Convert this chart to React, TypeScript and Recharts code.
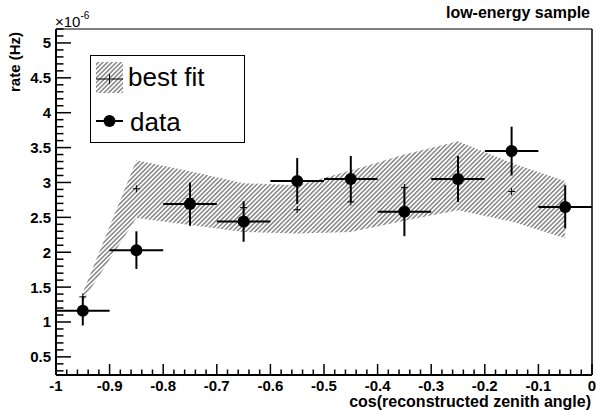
import React from "react";
import {
  Area,
  ComposedChart,
  ErrorBar,
  ReferenceLine,
  Scatter,
  XAxis,
  YAxis,
} from "recharts";

// bins in cos(reconstructed zenith angle)
const binCenters = [-0.95, -0.85, -0.75, -0.65, -0.55, -0.45, -0.35, -0.25, -0.15, -0.05];
const binHalfWidth = [0.05, 0.05, 0.05, 0.05, 0.05, 0.05, 0.05, 0.05, 0.05, 0.05];

// measured rate (units of 1e-6 Hz)
const dataRate = [1.16, 2.03, 2.69, 2.44, 3.02, 3.05, 2.58, 3.05, 3.45, 2.65];
const dataErr = [0.21, 0.27, 0.31, 0.29, 0.33, 0.33, 0.35, 0.33, 0.35, 0.31];

// best fit and its band
const fitRate = [1.36, 2.91, 2.77, 2.64, 2.61, 2.72, 2.93, 3.09, 2.87, 2.61];
const fitLow = [1.3, 2.49, 2.39, 2.29, 2.27, 2.29, 2.45, 2.6, 2.44, 2.2];
const fitHigh = [1.42, 3.32, 3.16, 2.99, 2.96, 3.17, 3.4, 3.59, 3.28, 3.02];

const xMajorTicks = [-1, -0.9, -0.8, -0.7, -0.6, -0.5, -0.4, -0.3, -0.2, -0.1, 0];
const xTickLabels = ["-1", "-0.9", "-0.8", "-0.7", "-0.6", "-0.5", "-0.4", "-0.3", "-0.2", "-0.1", "0"];
const yMajorTicks = [0.5, 1, 1.5, 2, 2.5, 3, 3.5, 4, 4.5, 5];
const yTickLabels = ["0.5", "1", "1.5", "2", "2.5", "3", "3.5", "4", "4.5", "5"];

const X_DOMAIN: [number, number] = [-1, 0];
const Y_DOMAIN: [number, number] = [0.24, 5.2];

const FONT = "'Liberation Sans', Arial, Helvetica, sans-serif";

const rows = binCenters.map((x, i) => ({
  x,
  y: dataRate[i],
  ey: dataErr[i],
  ex: binHalfWidth[i],
  fit: fitRate[i],
  band: [fitLow[i], fitHigh[i]],
}));

const minorTicks = (lo: number, hi: number, step: number) => {
  const out: number[] = [];
  const n = Math.round((hi - lo) / step);
  for (let i = 0; i <= n; i++) out.push(Math.round((lo + i * step) * 1000) / 1000);
  return out;
};
const xAllTicks = minorTicks(-1, 0, 0.02);
const yAllTicks = minorTicks(0.3, 5.2, 0.1);

const labelFor = (v: number, majors: number[], labels: string[]) => {
  const i = majors.findIndex((m) => Math.abs(m - v) < 1e-6);
  return i >= 0 ? labels[i] : null;
};

const XTick = (props: any) => {
  const { x, y, payload } = props;
  const label = labelFor(payload.value, xMajorTicks, xTickLabels);
  return (
    <g>
      <line x1={x} x2={x} y1={y} y2={y - (label ? 11 : 5.5)} stroke="#000" strokeWidth={1.5} />
      {label && (
        <text x={x} y={y + 16} textAnchor="middle" fontFamily={FONT} fontWeight="bold" fontSize={15} fill="#000">
          {label}
        </text>
      )}
    </g>
  );
};

const YTick = (props: any) => {
  const { x, y, payload } = props;
  const label = labelFor(payload.value, yMajorTicks, yTickLabels);
  return (
    <g>
      <line x1={x} x2={x + (label ? 15 : 7.5)} y1={y} y2={y} stroke="#000" strokeWidth={1.5} />
      {label && (
        <text x={x - 5} y={y} dy="0.36em" textAnchor="end" fontFamily={FONT} fontWeight="bold" fontSize={15} fill="#000">
          {label}
        </text>
      )}
    </g>
  );
};

const DataDot = (p: any) => <circle cx={p.cx} cy={p.cy} r={6} fill="#000" />;
const FitCross = (p: any) => (
  <g stroke="#000" strokeWidth={1}>
    <line x1={p.cx - 3.5} x2={p.cx + 3.5} y1={p.cy} y2={p.cy} />
    <line x1={p.cx} x2={p.cx} y1={p.cy - 3.5} y2={p.cy + 3.5} />
  </g>
);

const Hatch = ({ id }: { id: string }) => (
  <pattern id={id} patternUnits="userSpaceOnUse" width={3.2} height={3.2} patternTransform="rotate(45)">
    <line x1={1.6} y1={0} x2={1.6} y2={3.2} stroke="#333" strokeWidth={0.9} />
  </pattern>
);

export default function App() {
  return (
    <div style={{ position: "absolute", left: 0, top: 0, width: 596, height: 410, background: "#fff" }}>
      <ComposedChart width={596} height={410} data={rows} margin={{ top: 29, right: 4, bottom: 0, left: 0 }}>
        <defs>
          <Hatch id="hatch" />
        </defs>
        <XAxis
          type="number"
          dataKey="x"
          domain={X_DOMAIN}
          ticks={xAllTicks}
          interval={0}
          height={35}
          tickSize={0}
          tickMargin={0}
          tick={<XTick />}
          axisLine={{ stroke: "#000", strokeWidth: 2 }}
          tickLine={false}
          allowDataOverflow
        />
        <YAxis
          type="number"
          domain={Y_DOMAIN}
          ticks={yAllTicks}
          interval={0}
          width={56}
          tickSize={0}
          tickMargin={0}
          tick={<YTick />}
          axisLine={{ stroke: "#000", strokeWidth: 2 }}
          tickLine={false}
          allowDataOverflow
        />
        <ReferenceLine y={5.2} stroke="#000" strokeWidth={1} />
        <ReferenceLine x={0} stroke="#000" strokeWidth={1.5} />
        <Area
          type="linear"
          dataKey="band"
          stroke="none"
          fill="url(#hatch)"
          fillOpacity={1}
          isAnimationActive={false}
          dot={false}
          activeDot={false}
        />
        <Scatter dataKey="fit" shape={<FitCross />} isAnimationActive={false} />
        <Scatter dataKey="y" shape={<DataDot />} isAnimationActive={false}>
          <ErrorBar dataKey="ey" direction="y" width={0} stroke="#000" strokeWidth={2} />
          <ErrorBar dataKey="ex" direction="x" width={0} stroke="#000" strokeWidth={2} />
        </Scatter>
      </ComposedChart>

      <svg
        width={596}
        height={410}
        style={{ position: "absolute", left: 0, top: 0, pointerEvents: "none" }}
        fontFamily={FONT}
      >
        <defs>
          <Hatch id="hatchLegend" />
        </defs>
        <text x={590} y={18} textAnchor="end" fontWeight="bold" fontSize={16}>
          low-energy sample
        </text>
        <text x={591} y={407} textAnchor="end" fontWeight="bold" fontSize={16}>
          cos(reconstructed zenith angle)
        </text>
        <text x={20} y={32} textAnchor="end" fontWeight="bold" fontSize={15} transform="rotate(-90 20 32)">
          rate (Hz)
        </text>
        <text x={55} y={27} fontSize={15}>
          ×10
          <tspan dy={-8} fontSize={10}>
            -6
          </tspan>
        </text>

        <rect x={90.5} y={55.5} width={154} height={87} fill="#fff" stroke="#000" strokeWidth={1} />
        <rect x={96} y={62} width={27} height={31} fill="url(#hatchLegend)" />
        <line x1={96} x2={123} y1={79} y2={79} stroke="#000" strokeWidth={1} />
        <line x1={109.5} x2={109.5} y1={74} y2={84} stroke="#000" strokeWidth={1} />
        <text x={128} y={86} fontSize={26}>
          best fit
        </text>
        <line x1={96} x2={123} y1={121} y2={121} stroke="#000" strokeWidth={2} />
        <circle cx={109.5} cy={121} r={6} fill="#000" />
        <text x={130} y={131} fontSize={26}>
          data
        </text>
      </svg>
    </div>
  );
}
